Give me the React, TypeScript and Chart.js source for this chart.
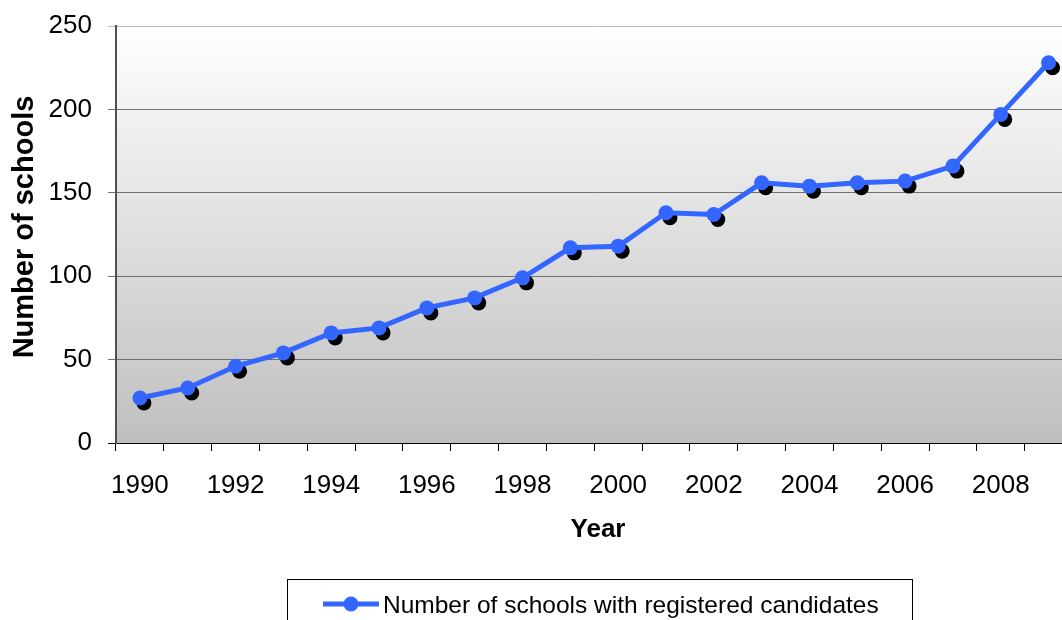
import React, { useEffect, useRef } from "react";
import { Chart, registerables } from "chart.js";

Chart.register(...registerables);

const years: string[] = [
  "1990", "1991", "1992", "1993", "1994", "1995", "1996", "1997", "1998", "1999",
  "2000", "2001", "2002", "2003", "2004", "2005", "2006", "2007", "2008", "2009",
];
const schools: number[] = [
  27, 33, 46, 54, 66, 69, 81, 87, 99, 117,
  118, 138, 137, 156, 154, 156, 157, 166, 197, 228,
];
const seriesLabel = "Number of schools with registered candidates";
const xTitle = "Year";
const yTitle = "Number of schools";
const yMin = 0;
const yMax = 250;
const yStep = 50;

const FONT = "'Liberation Sans', Arial, sans-serif";
const BLUE = "#3366ff";

const decorPlugin = {
  id: "decor",
  beforeDraw(chart: any) {
    const { ctx, chartArea } = chart;
    if (!chartArea) return;
    const g = ctx.createLinearGradient(0, chartArea.top, 0, chartArea.bottom);
    g.addColorStop(0, "#ffffff");
    g.addColorStop(1, "#bfbfbf");
    ctx.save();
    ctx.fillStyle = g;
    ctx.fillRect(chartArea.left, chartArea.top, chartArea.right - chartArea.left, chartArea.bottom - chartArea.top);
    ctx.restore();
  },
  beforeDatasetsDraw(chart: any) {
    const { ctx } = chart;
    const meta = chart.getDatasetMeta(0);
    ctx.save();
    ctx.fillStyle = "#000000";
    for (const el of meta.data) {
      ctx.beginPath();
      ctx.arc(el.x + 4, el.y + 5, 7.5, 0, Math.PI * 2);
      ctx.fill();
    }
    ctx.restore();
  },
  afterDraw(chart: any) {
    const { ctx } = chart;
    ctx.save();
    // x title
    ctx.fillStyle = "#000";
    ctx.font = `bold 26px ${FONT}`;
    ctx.textAlign = "center";
    ctx.textBaseline = "alphabetic";
    ctx.fillText(xTitle, 598, 537);
    // y title
    ctx.save();
    ctx.translate(33, 227);
    ctx.rotate(-Math.PI / 2);
    ctx.font = `bold 29px ${FONT}`;
    ctx.textAlign = "center";
    ctx.fillText(yTitle, 0, 0);
    ctx.restore();
    // legend
    ctx.strokeStyle = "#000";
    ctx.lineWidth = 1;
    ctx.strokeRect(287.5, 579.5, 625, 60);
    ctx.strokeStyle = BLUE;
    ctx.lineWidth = 5;
    ctx.beginPath();
    ctx.moveTo(323, 604);
    ctx.lineTo(379, 604);
    ctx.stroke();
    ctx.fillStyle = BLUE;
    ctx.beginPath();
    ctx.arc(351, 604, 7.5, 0, Math.PI * 2);
    ctx.fill();
    ctx.fillStyle = "#000";
    ctx.font = `24.5px ${FONT}`;
    ctx.textAlign = "left";
    ctx.textBaseline = "middle";
    ctx.fillText(seriesLabel, 383, 606);
    ctx.restore();
  },
};

export default function App() {
  const ref = useRef<HTMLCanvasElement | null>(null);
  useEffect(() => {
    if (!ref.current) return;
    const chart = new Chart(ref.current, {
      type: "line",
      data: {
        labels: years,
        datasets: [
          {
            label: seriesLabel,
            data: schools,
            borderColor: BLUE,
            backgroundColor: BLUE,
            borderWidth: 5,
            pointRadius: 7.5,
            pointBackgroundColor: BLUE,
            pointBorderWidth: 0,
            tension: 0,
          },
        ],
      },
      options: {
        animation: false,
        responsive: false,
        devicePixelRatio: 1,
        layout: { padding: { top: 26, right: 6, left: 0, bottom: 0 } },
        plugins: { legend: { display: false }, tooltip: { enabled: false } },
        scales: {
          x: {
            type: "category",
            offset: true,
            grid: { offset: true, drawOnChartArea: false, drawTicks: true, tickLength: 8, color: "#000", lineWidth: 1 },
            border: { color: "#000", width: 1 },
            ticks: {
              autoSkip: false,
              maxRotation: 0,
              minRotation: 0,
              padding: 19,
              color: "#000",
              font: { family: FONT, size: 26 },
              callback: (_v: any, i: number) => (i % 2 === 0 ? years[i] : ""),
            },
            afterFit: (s: any) => {
              s.height = 177;
              s.paddingLeft = 0;
              s.paddingRight = 0;
            },
          },
          y: {
            min: yMin,
            max: yMax,
            ticks: { stepSize: yStep, padding: 16, color: "#000", font: { family: FONT, size: 26 } },
            grid: {
              tickLength: 8,
              lineWidth: 1,
              color: (c: any) => (c.tick && c.tick.value === yMax ? "#bbbbbb" : c.tick && c.tick.value === 0 ? "#000" : "#707070"),
            },
            border: { color: "#505050", width: 2 },
            afterFit: (s: any) => {
              s.width = 116;
              s.paddingTop = 0;
              s.paddingBottom = 0;
            },
          },
        },
      },
      plugins: [decorPlugin],
    });
    return () => chart.destroy();
  }, []);
  return (
    <div style={{ position: "fixed", left: 0, top: 0, width: 1062, height: 620, overflow: "hidden", background: "#fff" }}>
      <canvas ref={ref} width={1080} height={620} style={{ display: "block" }} />
    </div>
  );
}
